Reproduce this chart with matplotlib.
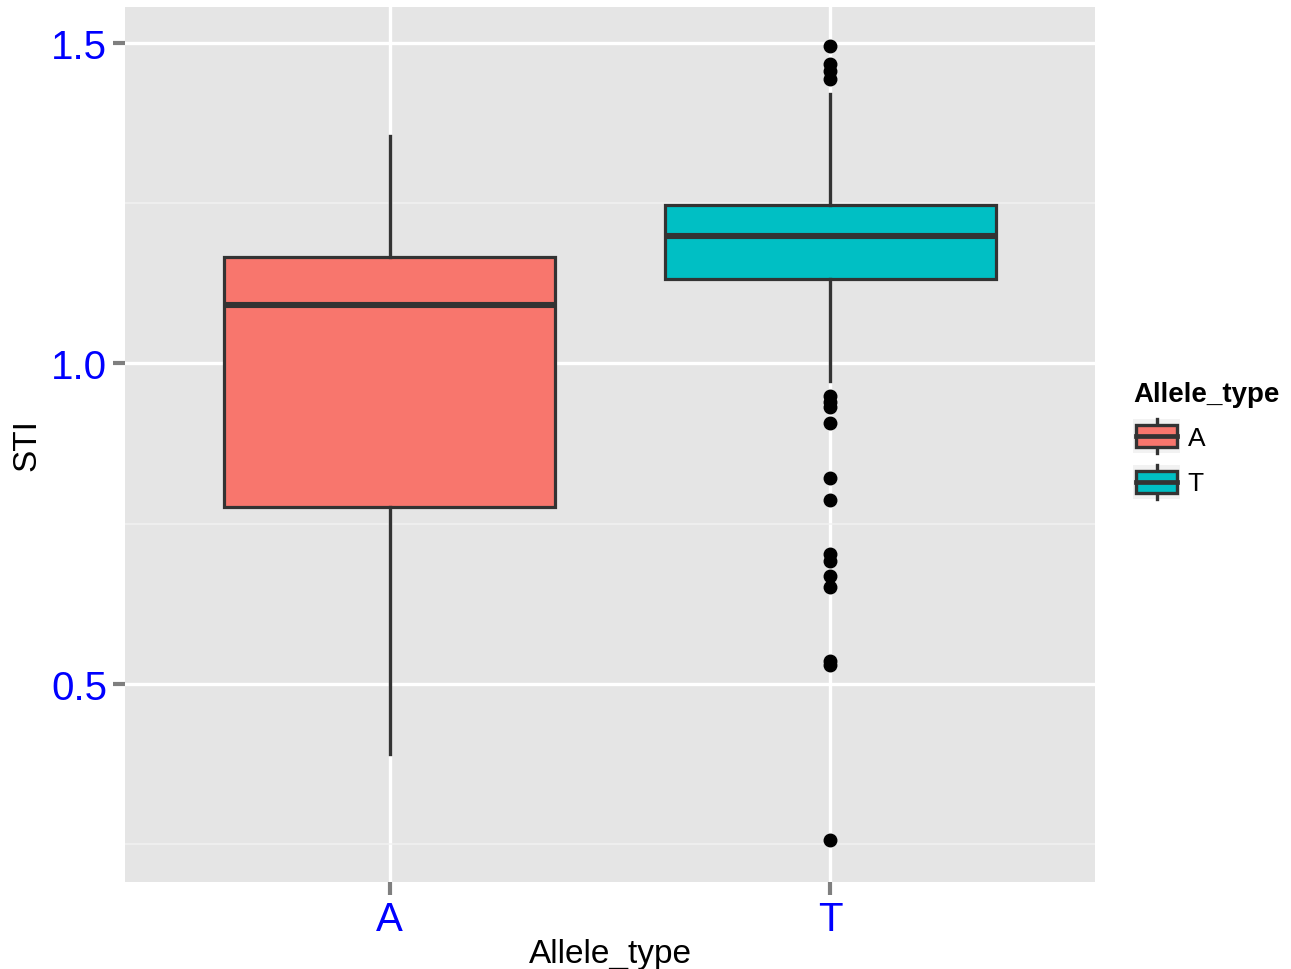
import matplotlib
matplotlib.use("Agg")
import matplotlib.pyplot as plt
from matplotlib.legend_handler import HandlerBase
from matplotlib.patches import Rectangle
from matplotlib.lines import Line2D

plt.rcParams["font.family"] = ["Liberation Sans", "DejaVu Sans"]

# Summary statistics of STI per allele type
categories = ["A", "T"]
fill_colors = ["#F8766D", "#00BFC4"]
q1 = [0.776, 1.132]
median = [1.091, 1.199]
q3 = [1.166, 1.247]
whisker_low = [0.391, 0.973]
whisker_high = [1.355, 1.420]
outliers_A = []
outliers_T = [1.495, 1.467, 1.456, 1.444,
              0.949, 0.940, 0.932, 0.907, 0.821, 0.787,
              0.703, 0.692, 0.669, 0.651, 0.536, 0.530, 0.257]
outliers = [outliers_A, outliers_T]
y_ticks = [0.5, 1.0, 1.5]
y_minor = [0.25, 0.75, 1.25]

EDGE = "#333333"
PANEL = "#E5E5E5"

fig = plt.figure(figsize=(12.91, 9.70), dpi=100)
ax = fig.add_axes([0.0968, 0.0897, 0.7514, 0.9021])
ax.set_facecolor(PANEL)

stats = []
for i, cat in enumerate(categories):
    stats.append(dict(label=cat, med=median[i], q1=q1[i], q3=q3[i],
                      whislo=whisker_low[i], whishi=whisker_high[i],
                      fliers=outliers[i]))

positions = list(range(1, len(categories) + 1))
bp = ax.bxp(stats, positions=positions, widths=0.75, patch_artist=True,
            showcaps=False,
            boxprops=dict(edgecolor=EDGE, linewidth=2.3),
            medianprops=dict(color=EDGE, linewidth=4.4, solid_capstyle="butt"),
            whiskerprops=dict(color=EDGE, linewidth=2.4),
            flierprops=dict(marker="o", markerfacecolor="black",
                            markeredgecolor="black", markersize=9,
                            linestyle="none"),
            zorder=3)
for patch, c in zip(bp["boxes"], fill_colors):
    patch.set_facecolor(c)

ax.set_xlim(0.4, 2.6)
ax.set_ylim(0.191, 1.556)
ax.set_xticks(positions)
ax.set_xticklabels(categories)
ax.set_yticks(y_ticks)
ax.set_yticklabels([f"{v:.1f}" for v in y_ticks])
ax.set_yticks(y_minor, minor=True)

ax.grid(True, which="major", color="white", linewidth=2.4, zorder=0)
ax.grid(True, which="minor", axis="y", color="#F2F2F2", linewidth=1.1, zorder=0)
ax.set_axisbelow(True)
for s in ax.spines.values():
    s.set_visible(False)

ax.tick_params(axis="both", which="major", colors="#7F7F7F", length=9,
               width=3, labelcolor="blue", labelsize=29, pad=4)
ax.tick_params(axis="both", which="minor", length=0)

ax.set_xlabel("Allele_type", fontsize=24, color="black", labelpad=0)
ax.set_ylabel("STI", fontsize=24, color="black", labelpad=6)


class BoxKeyHandler(HandlerBase):
    def __init__(self, color):
        super().__init__()
        self.color = color

    def create_artists(self, legend, orig_handle, xdescent, ydescent,
                       width, height, fontsize, trans):
        arts = []
        bg = Rectangle((-xdescent, -ydescent), width, height,
                       facecolor="#F2F2F2", edgecolor="none", transform=trans)
        arts.append(bg)
        cx = -xdescent + width / 2
        arts.append(Line2D([cx, cx], [-ydescent, -ydescent + height],
                           color=EDGE, linewidth=2.4, transform=trans))
        box = Rectangle((-xdescent + 2, -ydescent + height * 0.17),
                        width - 4, height * 0.66, facecolor=self.color,
                        edgecolor=EDGE, linewidth=2.4, transform=trans)
        arts.append(box)
        arts.append(Line2D([-xdescent + 2, -xdescent + width - 2],
                           [-ydescent + height / 2] * 2, color=EDGE,
                           linewidth=3.4, transform=trans))
        return arts


handles = [Rectangle((0, 0), 1, 1) for _ in categories]
leg = fig.legend(handles, categories,
                 handler_map={h: BoxKeyHandler(c) for h, c in zip(handles, fill_colors)},
                 title="Allele_type", loc="upper left",
                 bbox_to_anchor=(0.878, 0.606), frameon=False,
                 fontsize=19, title_fontsize=20, handlelength=1.75,
                 handleheight=1.6, handletextpad=0.3, labelspacing=0.45,
                 borderaxespad=0, borderpad=0, alignment="left")
leg.get_title().set_fontweight("bold")

fig.savefig("out.png", dpi=100)
